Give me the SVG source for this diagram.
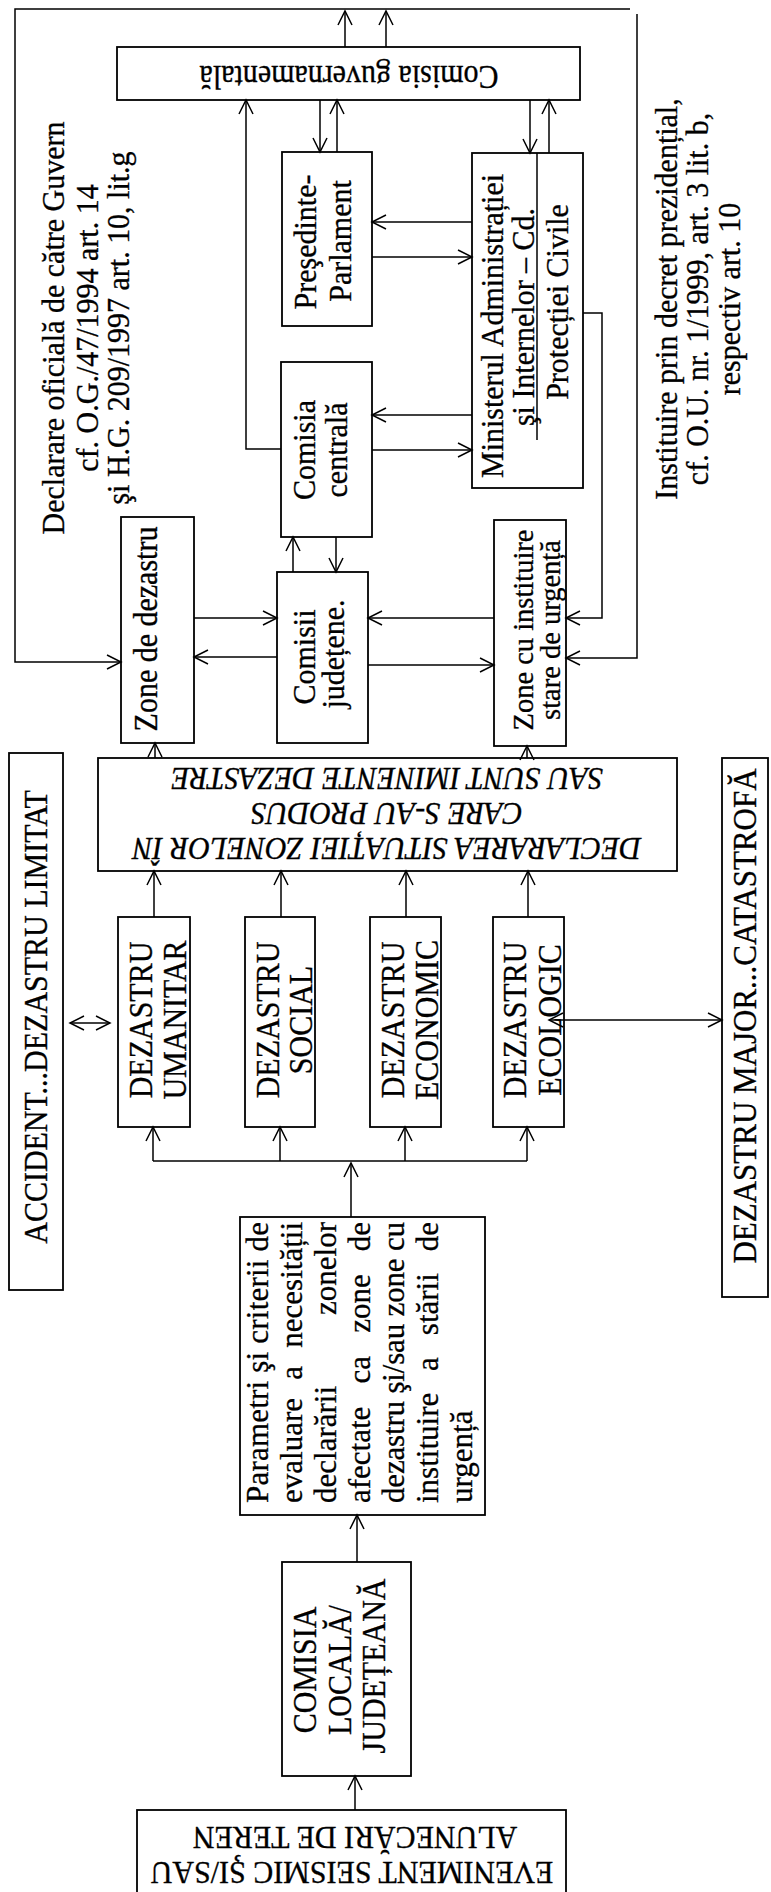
<svg xmlns="http://www.w3.org/2000/svg" width="771" height="1892" viewBox="0 0 771 1892">
<defs>
<style>
.bx{fill:#fff;stroke:#000;stroke-width:1.8}
.ln{fill:none;stroke:#000;stroke-width:1.5}
.ar{marker-end:url(#ah)}
.da{marker-start:url(#ah);marker-end:url(#ah)}
.t{font-family:"Liberation Serif","Times New Roman",serif;font-size:30px;fill:#000;stroke:#000;stroke-width:0.3}
.i{font-style:italic}
</style>
<marker id="ah" viewBox="0 0 16 16" refX="15" refY="8" markerWidth="16" markerHeight="16" markerUnits="userSpaceOnUse" orient="auto-start-reverse" overflow="visible">
<path d="M1,1 L15,8 L1,15" fill="none" stroke="#000" stroke-width="1.5"/>
</marker>
</defs>
<rect width="771" height="1892" fill="#fff"/>

<g id="n-comisia-guv">
<rect class="bx" x="117" y="47" width="463" height="53"/>
<text class="t" text-anchor="middle" transform="translate(349,66) rotate(180) scale(1,1.1)">Comisia guvernamentală</text>
</g>
<g id="n-presedinte">
<rect class="bx" x="282" y="152" width="90" height="174"/>
<text class="t" text-anchor="middle" transform="translate(316,242) rotate(-90) scale(1,1.08)">Preşedinte-</text>
<text class="t" text-anchor="middle" transform="translate(351,241) rotate(-90) scale(1,1.08)">Parlament</text>
</g>
<g id="n-minister">
<rect class="bx" x="472" y="153" width="111" height="335"/>
<line class="ln" x1="537" y1="153" x2="537" y2="440"/>
<text class="t" text-anchor="middle" transform="translate(503,326) rotate(-90) scale(1,1.05)">Ministerul Administrației</text>
<text class="t" text-anchor="middle" transform="translate(534,317) rotate(-90) scale(1,1.05)">şi Internelor – Cd.</text>
<text class="t" text-anchor="middle" transform="translate(568,302) rotate(-90) scale(1,1.05)">Protecției Civile</text>
</g>
<g id="n-comisia-centrala">
<rect class="bx" x="281" y="362" width="91" height="175"/>
<text class="t" text-anchor="middle" transform="translate(315,450) rotate(-90) scale(1,1.08)">Comisia</text>
<text class="t" text-anchor="middle" transform="translate(347,450) rotate(-90) scale(1,1.08)">centrală</text>
</g>
<g id="n-zone-dezastru">
<rect class="bx" x="121" y="517" width="73" height="226"/>
<text class="t" text-anchor="middle" transform="translate(157,629) rotate(-90) scale(1,1.1)">Zone de dezastru</text>
</g>
<g id="n-comisii-judetene">
<rect class="bx" x="277" y="572" width="91" height="171"/>
<text class="t" text-anchor="middle" transform="translate(315,657) rotate(-90) scale(1,1.08)">Comisii</text>
<text class="t" text-anchor="middle" transform="translate(344,654) rotate(-90) scale(1,1.08)">județene.</text>
</g>
<g id="n-zone-urgenta">
<rect class="bx" x="494" y="520" width="72" height="226"/>
<text class="t" style="font-size:28.5px" text-anchor="middle" transform="translate(533,630) rotate(-90) scale(1,1.05)">Zone cu instituire</text>
<text class="t" style="font-size:28.5px" text-anchor="middle" transform="translate(560,630) rotate(-90) scale(1,1.05)">stare de urgență</text>
</g>
<g id="n-declararea">
<rect class="bx" x="98" y="758" width="579" height="113"/>
<text class="t i" text-anchor="middle" transform="translate(387,838) rotate(180) scale(1,1.08)">DECLARAREA SITUAȚIEI ZONELOR ÎN</text>
<text class="t i" text-anchor="middle" transform="translate(387,803) rotate(180) scale(1,1.08)">CARE S-AU PRODUS</text>
<text class="t i" text-anchor="middle" transform="translate(387,768) rotate(180) scale(1,1.08)">SAU SUNT IMINENTE DEZASTRE</text>
</g>
<g id="n-umanitar">
<rect class="bx" x="118" y="917" width="72" height="210"/>
<text class="t" text-anchor="middle" transform="translate(152,1020) rotate(-90) scale(1,1.12)">DEZASTRU</text>
<text class="t" text-anchor="middle" transform="translate(186,1020) rotate(-90) scale(1,1.12)">UMANITAR</text>
</g>
<g id="n-social">
<rect class="bx" x="245" y="917" width="70" height="210"/>
<text class="t" text-anchor="middle" transform="translate(279,1020) rotate(-90) scale(1,1.12)">DEZASTRU</text>
<text class="t" text-anchor="middle" transform="translate(312,1020) rotate(-90) scale(1,1.12)">SOCIAL</text>
</g>
<g id="n-economic">
<rect class="bx" x="370" y="917" width="71" height="210"/>
<text class="t" text-anchor="middle" transform="translate(404,1020) rotate(-90) scale(1,1.12)">DEZASTRU</text>
<text class="t" text-anchor="middle" transform="translate(438,1020) rotate(-90) scale(1,1.12)">ECONOMIC</text>
</g>
<g id="n-ecologic">
<rect class="bx" x="493" y="917" width="71" height="210"/>
<text class="t" text-anchor="middle" transform="translate(526,1020) rotate(-90) scale(1,1.12)">DEZASTRU</text>
<text class="t" text-anchor="middle" transform="translate(561,1020) rotate(-90) scale(1,1.12)">ECOLOGIC</text>
</g>
<g id="n-accident">
<rect class="bx" x="9" y="753" width="54" height="537"/>
<text class="t" text-anchor="middle" transform="translate(47,1017) rotate(-90) scale(1,1.12)">ACCIDENT...DEZASTRU LIMITAT</text>
</g>
<g id="n-major">
<rect class="bx" x="722" y="758" width="46" height="539"/>
<text class="t" style="font-size:31px" text-anchor="middle" transform="translate(756,1016) rotate(-90) scale(1,1.08)">DEZASTRU MAJOR...CATASTROFĂ</text>
</g>
<g id="n-parametri">
<rect class="bx" x="240" y="1217" width="245" height="298"/>
<g class="t" style="font-size:31px" transform="rotate(-90)">
<text x="-1503" y="268" textLength="281" lengthAdjust="spacing">Parametri şi criterii de</text>
<text x="-1503" y="302">evaluare</text>
<text x="-1372.8" y="302" text-anchor="middle">a</text>
<text x="-1222" y="302" text-anchor="end">necesității</text>
<text x="-1503" y="336">declarării</text>
<text x="-1222" y="336" text-anchor="end">zonelor</text>
<text x="-1503" y="370">afectate</text>
<text x="-1369.7" y="370" text-anchor="middle">ca</text>
<text x="-1303.6" y="370" text-anchor="middle">zone</text>
<text x="-1222" y="370" text-anchor="end">de</text>
<text x="-1503" y="404" textLength="281" lengthAdjust="spacing">dezastru şi/sau zone cu</text>
<text x="-1503" y="438">instituire</text>
<text x="-1364" y="438" text-anchor="middle">a</text>
<text x="-1304.2" y="438" text-anchor="middle">stării</text>
<text x="-1222" y="438" text-anchor="end">de</text>
<text x="-1503" y="472">urgență</text>
</g>
</g>
<g id="n-comisia-locala">
<rect class="bx" x="282" y="1562" width="129" height="214"/>
<text class="t" text-anchor="middle" transform="translate(316,1670) rotate(-90) scale(1,1.1)">COMISIA</text>
<text class="t" text-anchor="middle" transform="translate(351,1670) rotate(-90) scale(1,1.1)">LOCALĂ/</text>
<text class="t" text-anchor="middle" transform="translate(385,1666) rotate(-90) scale(1,1.1)">JUDEȚEANĂ</text>
</g>
<g id="n-eveniment">
<rect class="bx" x="137" y="1810" width="429" height="100"/>
<text class="t" text-anchor="middle" transform="translate(352,1862) rotate(180) scale(1,1.08)">EVENIMENT SEISMIC ŞI/SAU</text>
<text class="t" text-anchor="middle" transform="translate(355,1827) rotate(180) scale(1,1.08)">ALUNECĂRI DE TEREN</text>
</g>
<g id="n-label-guvern">
<text class="t" text-anchor="middle" transform="translate(64,328) rotate(-90) scale(1,1.05)">Declarare oficială de către Guvern</text>
<text class="t" text-anchor="middle" transform="translate(98,328) rotate(-90) scale(1,1.05)">cf. O.G./47/1994 art. 14</text>
<text class="t" text-anchor="middle" transform="translate(129,328) rotate(-90) scale(1,1.05)">şi H.G. 209/1997 art. 10, lit.g</text>
</g>
<g id="n-label-decret">
<text class="t" text-anchor="middle" transform="translate(677,299) rotate(-90) scale(1,1.05)">Instituire prin decret prezidențial,</text>
<text class="t" text-anchor="middle" transform="translate(708,299) rotate(-90) scale(1,1.05)">cf. O.U. nr. 1/1999, art. 3 lit. b,</text>
<text class="t" text-anchor="middle" transform="translate(740,299) rotate(-90) scale(1,1.05)">respectiv art. 10</text>
</g>

<g id="connectors">
<path class="ln ar" d="M345,47 V11"/>
<path class="ln ar" d="M386,47 V11"/>
<path class="ln ar" d="M630,9 H15 V662 H121"/>
<path class="ln ar" d="M637,14 V658 H566"/>
<path class="ln ar" d="M583,313 H602 V618 H566"/>
<path class="ln ar" d="M320,100 V152"/>
<path class="ln ar" d="M337,152 V100"/>
<path class="ln ar" d="M530,100 V153"/>
<path class="ln ar" d="M549,153 V100"/>
<path class="ln ar" d="M281,449 H246 V100"/>
<path class="ln ar" d="M472,222 H372"/>
<path class="ln ar" d="M372,257 H472"/>
<path class="ln ar" d="M472,415 H372"/>
<path class="ln ar" d="M372,450 H472"/>
<path class="ln ar" d="M293,572 V537"/>
<path class="ln ar" d="M336,537 V572"/>
<path class="ln ar" d="M194,618 H277"/>
<path class="ln ar" d="M277,657 H194"/>
<path class="ln ar" d="M494,618 H368"/>
<path class="ln ar" d="M368,665 H494"/>
<path class="ln ar" d="M155,758 V743"/>
<path class="ln ar" d="M527,758 V746"/>
<path class="ln ar" d="M154,917 V871"/>
<path class="ln ar" d="M281,917 V871"/>
<path class="ln ar" d="M406,917 V871"/>
<path class="ln ar" d="M528,917 V871"/>
<path class="ln ar" d="M351,1217 V1163"/>
<path class="ln" d="M153,1161 H527"/>
<path class="ln ar" d="M153,1161 V1127"/>
<path class="ln ar" d="M280,1161 V1127"/>
<path class="ln ar" d="M405,1161 V1127"/>
<path class="ln ar" d="M527,1161 V1127"/>
<path class="ln ar" d="M357,1562 V1515"/>
<path class="ln ar" d="M355,1810 V1776"/>
<path class="ln da" d="M70,1023 H110"/>
<path class="ln da" d="M549,1020 H722"/>
</g>
</svg>
